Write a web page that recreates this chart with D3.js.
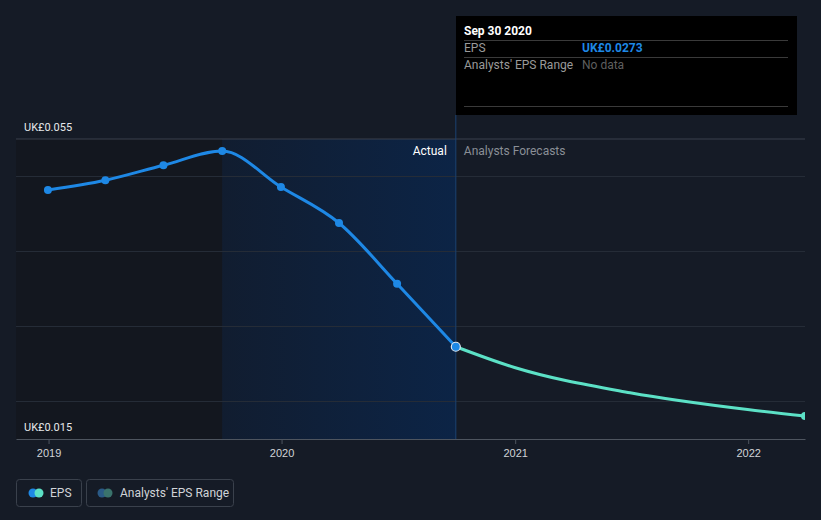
<!DOCTYPE html>
<html><head><meta charset="utf-8">
<script src="https://cdn.jsdelivr.net/npm/d3@7/dist/d3.min.js"></script>
<style>
html,body{margin:0;padding:0;background:#151b26;}
svg{display:block;font-family:Roboto,"Noto Sans",sans-serif;}
</style></head>
<body>
<svg id="c" width="821" height="520"></svg>
<script>
const actualDates = ["2018-12-31","2019-03-31","2019-06-30","2019-09-30","2019-12-31","2020-03-31","2020-06-30","2020-09-30"];
const actualEPS = [0.0482,0.0495,0.0515,0.0534,0.0486,0.0438,0.0357,0.0273];
const forecastDates = ["2020-09-30","2020-12-31","2021-06-30","2021-12-31","2022-03-31"];
const forecastEPS = [0.0273,0.02453,0.02117,0.01893,0.01807];
const yTicks = [0.02,0.03,0.04,0.05];
const yLabelValues = [0.055,0.015];
const xTickYears = ["2019","2020","2021","2022"];

const parse = d3.timeParse("%Y-%m-%d");
const actual = actualDates.map((d,i)=>({date:parse(d),v:actualEPS[i]}));
const forecast = forecastDates.map((d,i)=>({date:parse(d),v:forecastEPS[i]}));

const svg = d3.select("#c");
const L=16,R=805,T=139,B=439;
const x = d3.scaleTime().domain([parse("2018-11-11"),parse("2022-03-31")]).range([L,R]);
const y = d3.scaleLinear().domain([0.015,0.055]).range([B,T]);

const defs = svg.append("defs");
const grad = defs.append("linearGradient").attr("id","g").attr("x1","0").attr("x2","1").attr("y1","0").attr("y2","0");
grad.append("stop").attr("offset","0").attr("stop-color","#111d30");
grad.append("stop").attr("offset","1").attr("stop-color","#0c2446");
defs.append("clipPath").attr("id","clip").append("rect").attr("x",L).attr("y",0).attr("width",R-L).attr("height",B);

const split = parse("2019-09-30"), now = parse("2020-09-30");
svg.append("rect").attr("x",L).attr("y",T).attr("width",x(split)-L).attr("height",B-T).attr("fill","#13171f");
svg.append("rect").attr("x",x(split)).attr("y",T).attr("width",x(now)-x(split)).attr("height",B-T).attr("fill","url(#g)");

svg.selectAll(".grid").data(yTicks).enter().append("line")
 .attr("x1",L).attr("x2",R).attr("y1",d=>y(d)).attr("y2",d=>y(d))
 .attr("stroke","#252c37").attr("stroke-width",1);
svg.append("line").attr("x1",L).attr("x2",R).attr("y1",y(0.055)).attr("y2",y(0.055)).attr("stroke","#3b414c");

svg.append("line").attr("x1",x(now)).attr("x2",x(now)).attr("y1",115).attr("y2",B).attr("stroke","#1b4270").attr("stroke-width",1);

const xAxis = d3.axisBottom(x).tickValues(xTickYears.map(d=>parse(d+"-01-01"))).tickFormat(d3.timeFormat("%Y")).tickSize(5).tickSizeOuter(0);
const gx = svg.append("g").attr("transform",`translate(0,${B})`).call(xAxis);
gx.select(".domain").attr("stroke","#4e555f");
gx.selectAll(".tick line").attr("stroke","#4e555f");
gx.selectAll(".tick text").attr("fill","#d0d3d7").attr("font-size","11px").attr("dy","0.9em");

svg.selectAll(".yl").data(yLabelValues).enter().append("text")
 .attr("x",24).attr("y",d=>y(d)-8).attr("fill","#e6e8ea").attr("font-size","11px")
 .text(d=>"UK£"+d3.format(".3f")(d));

const line = d3.line().x(d=>x(d.date)).y(d=>y(d.v)).curve(d3.curveMonotoneX);
const gc = svg.append("g").attr("clip-path","url(#clip)");
gc.append("path").datum(forecast).attr("d",line).attr("fill","none").attr("stroke","#5ce1c6").attr("stroke-width",3);
gc.append("path").datum(actual).attr("d",line).attr("fill","none").attr("stroke","#1e88e5").attr("stroke-width",3);
gc.selectAll(".pt").data(actual.slice(0,-1)).enter().append("circle")
 .attr("cx",d=>x(d.date)).attr("cy",d=>y(d.v)).attr("r",4).attr("fill","#1e88e5");
gc.append("circle").datum(forecast[forecast.length-1]).attr("cx",d=>x(d.date)).attr("cy",d=>y(d.v)).attr("r",4).attr("fill","#5ce1c6");
gc.append("circle").datum(actual[actual.length-1]).attr("cx",d=>x(d.date)).attr("cy",d=>y(d.v)).attr("r",4.5).attr("fill","#1e88e5").attr("stroke","#dfe6ee").attr("stroke-width",1.2);

svg.append("text").attr("x",x(now)-9).attr("y",155).attr("text-anchor","end").attr("fill","#ffffff").attr("font-size","12px").text("Actual");
svg.append("text").attr("x",x(now)+8).attr("y",155).attr("fill","#8a8f96").attr("font-size","12px").text("Analysts Forecasts");

const tt = svg.append("g");
tt.append("rect").attr("x",456).attr("y",16).attr("width",341).attr("height",99).attr("fill","#000");
tt.append("text").attr("x",464).attr("y",35).attr("fill","#fff").attr("font-size","12px").attr("font-weight","bold").text("Sep 30 2020");
[40,57,106].forEach(yy=>tt.append("line").attr("x1",464).attr("x2",788).attr("y1",yy+0.5).attr("y2",yy+0.5).attr("stroke","#3a3a3a"));
tt.append("text").attr("x",464).attr("y",52).attr("fill","#9a9a9a").attr("font-size","12px").text("EPS");
tt.append("text").attr("x",582).attr("y",52).attr("fill","#1e88e5").attr("font-size","12px").attr("font-weight","bold").text("UK£"+actualEPS[actualEPS.length-1]);
tt.append("text").attr("x",464).attr("y",69).attr("fill","#9a9a9a").attr("font-size","12px").text("Analysts' EPS Range");
tt.append("text").attr("x",582).attr("y",69).attr("fill","#5f5f5f").attr("font-size","12px").text("No data");

const lg = svg.append("g");
lg.append("rect").attr("x",16.5).attr("y",479.5).attr("width",65).attr("height",27).attr("rx",3).attr("fill","none").attr("stroke","#3a414c");
lg.append("circle").attr("cx",33).attr("cy",493).attr("r",4.5).attr("fill","#1e88e5");
lg.append("circle").attr("cx",39).attr("cy",493).attr("r",4.5).attr("fill","#5ce1c6");
lg.append("text").attr("x",50).attr("y",497).attr("fill","#d0d3d7").attr("font-size","12px").text("EPS");
lg.append("rect").attr("x",86.5).attr("y",479.5).attr("width",147).attr("height",27).attr("rx",3).attr("fill","none").attr("stroke","#3a414c");
lg.append("circle").attr("cx",102).attr("cy",493).attr("r",4.5).attr("fill","#2a5a86");
lg.append("circle").attr("cx",108).attr("cy",493).attr("r",4.5).attr("fill","#3a736c");
lg.append("text").attr("x",120).attr("y",497).attr("fill","#d0d3d7").attr("font-size","12px").text("Analysts' EPS Range");
</script>
</body></html>
